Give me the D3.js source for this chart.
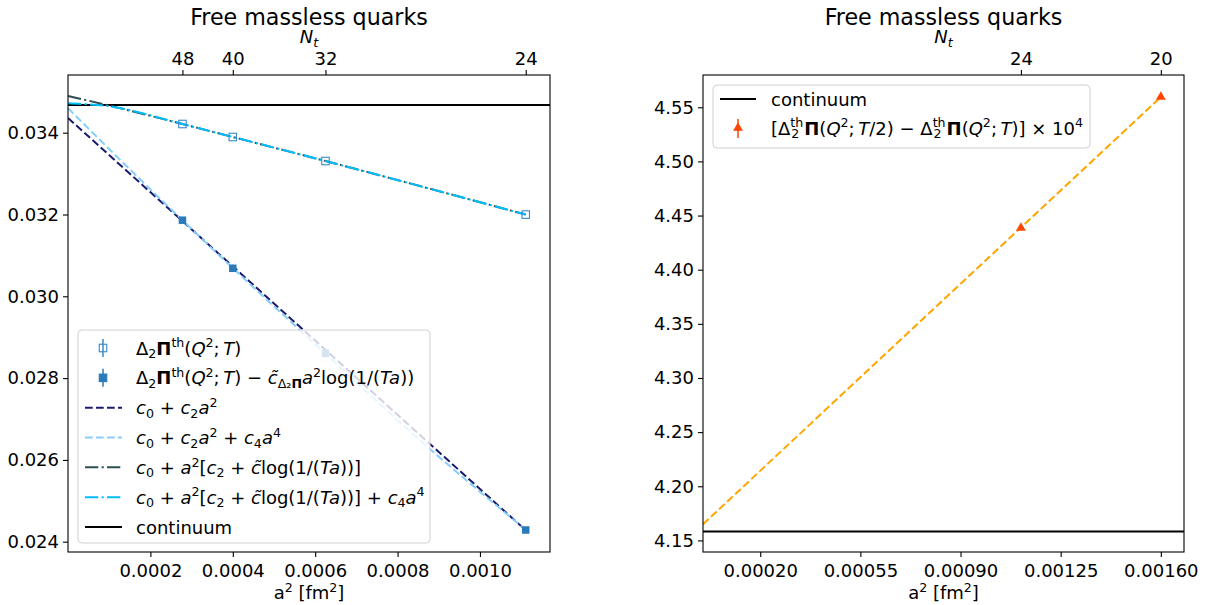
<!DOCTYPE html>
<html>
<head>
<meta charset="utf-8">
<script src="https://cdn.jsdelivr.net/npm/d3@7"></script>
<style>
  body { margin: 0; background: #fff; }
  svg text { font-family: "DejaVu Sans", sans-serif; fill: #000; }
</style>
</head>
<body>
<div id="chart"></div>
<script>
// left panel data
var leftA2 = [0.0002778, 0.0004, 0.000625, 0.0011111];
var leftNt = [48, 40, 32, 24];
var rawVals = [0.034213, 0.033895, 0.033308, 0.031998];
var subVals = [0.031861, 0.030685, 0.028604, 0.024286];
var continuumLeft = 0.034677;
var leftXTicks = [0.0002, 0.0004, 0.0006, 0.0008, 0.0010];
var leftYTicks = [0.024, 0.026, 0.028, 0.030, 0.032, 0.034];

// fit curves, [a2, value]
var fitC2 = [[0, 0.03436], [0.0011111, 0.02428]];
var fitC4 = [[0, 0.0346], [0.0001, 0.03360], [0.0002778, 0.03186], [0.0004, 0.03069],
             [0.000625, 0.02860], [0.00085, 0.02652], [0.0011111, 0.02429]];
var fitLog = [[0, 0.0349], [0.0000942, 0.034677], [0.0002778, 0.034213], [0.0004, 0.033895],
              [0.000625, 0.033308], [0.0011111, 0.031998]];
var fitLogC4 = [[0, 0.03472], [0.00004, 0.03470], [0.0000942, 0.034653], [0.0002778, 0.034213],
                [0.0004, 0.033895], [0.000625, 0.033308], [0.0011111, 0.031998]];

// right panel data
var rightA2 = [0.0011111, 0.0016];
var rightNt = [24, 20];
var diffVals = [4.4386, 4.5595];
var continuumRight = 4.1583;
var fitRight = [[0, 4.165], [0.0016, 4.5595]];
var rightXTicks = [0.0002, 0.00055, 0.0009, 0.00125, 0.0016];
var rightYTicks = [4.15, 4.20, 4.25, 4.30, 4.35, 4.40, 4.45, 4.50, 4.55];

var W = 1207, H = 605, FS = 18;

var svg = d3.select('#chart').append('svg')
    .attr('width', W).attr('height', H)
    .attr('xmlns', 'http://www.w3.org/2000/svg');

// rich text: parts = [text, flags, dx]; flags: i italic, b bold, ^ sup, _ sub
function rich(sel, parts, fs) {
    var cur = 0;
    parts.forEach(function(p) {
        var f = p[1] || '';
        var target = f.indexOf('^') >= 0 ? -0.4 * fs : (f.indexOf('_') >= 0 ? 0.2 * fs : 0);
        var ts = sel.append('tspan').text(p[0]).attr('dy', target - cur);
        cur = target;
        if (f.indexOf('^') >= 0 || f.indexOf('_') >= 0) ts.style('font-size', (0.7 * fs) + 'px');
        if (f.indexOf('i') >= 0) ts.style('font-style', 'italic');
        if (f.indexOf('b') >= 0) ts.style('font-weight', 'bold');
        if (p[2]) ts.attr('dx', p[2]);
    });
    return sel;
}

function panel(cfg) {
    var x = d3.scaleLinear().domain(cfg.xDomain).range([cfg.left, cfg.right]);
    var y = d3.scaleLinear().domain(cfg.yDomain).range([cfg.bottom, cfg.top]);
    var g = svg.append('g');

    var clipId = 'clip' + cfg.id;
    svg.append('clipPath').attr('id', clipId).append('rect')
        .attr('x', cfg.left).attr('y', cfg.top)
        .attr('width', cfg.right - cfg.left).attr('height', cfg.bottom - cfg.top);

    var plot = g.append('g').attr('clip-path', 'url(#' + clipId + ')');

    // axes
    var xAxis = g.append('g').attr('transform', 'translate(0,' + cfg.bottom + ')')
        .call(d3.axisBottom(x).tickValues(cfg.xTicks).tickFormat(d3.format(cfg.xFmt))
            .tickSize(5).tickPadding(5));
    var yAxis = g.append('g').attr('transform', 'translate(' + cfg.left + ',0)')
        .call(d3.axisLeft(y).tickValues(cfg.yTicks).tickFormat(d3.format(cfg.yFmt))
            .tickSize(5).tickPadding(4));
    var topAxis = g.append('g').attr('transform', 'translate(0,' + cfg.top + ')')
        .call(d3.axisTop(x).tickValues(cfg.topA2).tickFormat(function(d, i) { return cfg.topNt[i]; })
            .tickSize(5).tickPadding(5));
    [xAxis, yAxis, topAxis].forEach(function(a) {
        a.select('.domain').remove();
        a.selectAll('text').style('font-size', FS + 'px').style('font-family', '"DejaVu Sans", sans-serif');
        a.selectAll('line').attr('stroke', '#000').attr('stroke-width', 1.1);
    });
    xAxis.selectAll('text').attr('dy', '0.85em');

    // frame
    g.append('rect').attr('x', cfg.left).attr('y', cfg.top)
        .attr('width', cfg.right - cfg.left).attr('height', cfg.bottom - cfg.top)
        .attr('fill', 'none').attr('stroke', '#000').attr('stroke-width', 1.1);

    var cx = (cfg.left + cfg.right) / 2;
    g.append('text').attr('x', cx).attr('y', 25).attr('text-anchor', 'middle')
        .style('font-size', '22.2px').text('Free massless quarks');
    rich(g.append('text').attr('x', cx).attr('y', 43).attr('text-anchor', 'middle')
        .style('font-size', FS + 'px'), [['N', 'i'], ['t', 'i_']], FS);
    rich(g.append('text').attr('x', cx).attr('y', 599).attr('text-anchor', 'middle')
        .style('font-size', FS + 'px'), [['a'], ['2', '^'], [' [fm'], ['2', '^'], [']']], FS);

    return { x: x, y: y, g: g, plot: plot };
}

var line = function(p) {
    return d3.line().x(function(d) { return p.x(d[0]); }).y(function(d) { return p.y(d[1]); });
};

var LW = 2, DASH = '7.7,3.3', DASHDOT = '13.3,3.3,2.1,3.3';
var BLUE = '#2b7bba', BLUE_OPEN = '#3a89c9';

// ---------------- LEFT ----------------
var L = panel({
    id: 'L', left: 68, right: 550, top: 75, bottom: 552,
    xDomain: [0, 0.00117], yDomain: [0.023748, 0.035411],
    xTicks: leftXTicks, yTicks: leftYTicks, xFmt: '.4f', yFmt: '.3f',
    topA2: leftA2, topNt: leftNt
});

L.plot.append('line')
    .attr('x1', L.x(0)).attr('x2', L.x(0.00117))
    .attr('y1', L.y(continuumLeft)).attr('y2', L.y(continuumLeft))
    .attr('stroke', '#000').attr('stroke-width', LW);

var fits = [
    { data: fitC2, color: 'midnightblue', dash: DASH },
    { data: fitC4, color: 'lightskyblue', dash: DASH },
    { data: fitLog, color: 'darkslategray', dash: DASHDOT },
    { data: fitLogC4, color: 'deepskyblue', dash: DASHDOT }
];
fits.forEach(function(f) {
    L.plot.append('path').datum(f.data)
        .attr('d', d3.line().curve(d3.curveMonotoneX)
            .x(function(d) { return L.x(d[0]); }).y(function(d) { return L.y(d[1]); }))
        .attr('fill', 'none').attr('stroke', f.color)
        .attr('stroke-width', LW).attr('stroke-dasharray', f.dash);
});

var SQ = 7.5;
L.plot.append('g').selectAll('rect').data(leftA2).enter()
    .append('rect')
    .attr('x', function(d) { return L.x(d) - SQ / 2; })
    .attr('y', function(d, i) { return L.y(rawVals[i]) - SQ / 2; })
    .attr('width', SQ).attr('height', SQ)
    .attr('fill', 'none').attr('stroke', BLUE_OPEN).attr('stroke-width', 1.1);

L.plot.append('g').selectAll('rect').data(leftA2).enter()
    .append('rect')
    .attr('x', function(d) { return L.x(d) - SQ / 2; })
    .attr('y', function(d, i) { return L.y(subVals[i]) - SQ / 2; })
    .attr('width', SQ).attr('height', SQ)
    .attr('fill', BLUE);

// left legend
var legL = L.g.append('g');
legL.append('rect').attr('x', 78).attr('y', 330).attr('width', 352).attr('height', 213)
    .attr('rx', 4).attr('fill', '#fff').attr('fill-opacity', 0.8)
    .attr('stroke', '#d0d0d0').attr('stroke-width', 1);

var legendItems = [
    { kind: 'open', parts: [['Δ'], ['2', '_'], ['Π', 'b'], ['th', '^'], ['('], ['Q', 'i'], ['2', '^'], [';\u2009'], ['T', 'i'], [')']] },
    { kind: 'fill', parts: [['Δ'], ['2', '_'], ['Π', 'b'], ['th', '^'], ['('], ['Q', 'i'], ['2', '^'], [';\u2009'], ['T', 'i'], [') − '],
        ['c\u0303', 'i'], ['Δ₂', '_'], ['Π', '_b'], ['a', 'i'], ['2', '^'], ['log(1/('], ['Ta', 'i'], ['))']] },
    { kind: 'line', color: 'midnightblue', dash: DASH,
      parts: [['c', 'i'], ['0', '_'], [' + '], ['c', 'i'], ['2', '_'], ['a', 'i'], ['2', '^']] },
    { kind: 'line', color: 'lightskyblue', dash: DASH,
      parts: [['c', 'i'], ['0', '_'], [' + '], ['c', 'i'], ['2', '_'], ['a', 'i'], ['2', '^'], [' + '], ['c', 'i'], ['4', '_'], ['a', 'i'], ['4', '^']] },
    { kind: 'line', color: 'darkslategray', dash: DASHDOT,
      parts: [['c', 'i'], ['0', '_'], [' + '], ['a', 'i'], ['2', '^'], ['['], ['c', 'i'], ['2', '_'], [' + '], ['c\u0303', 'i'], ['log(1/('], ['Ta', 'i'], ['))]']] },
    { kind: 'line', color: 'deepskyblue', dash: DASHDOT,
      parts: [['c', 'i'], ['0', '_'], [' + '], ['a', 'i'], ['2', '^'], ['['], ['c', 'i'], ['2', '_'], [' + '], ['c\u0303', 'i'], ['log(1/('], ['Ta', 'i'], ['))] + '], ['c', 'i'], ['4', '_'], ['a', 'i'], ['4', '^']] },
    { kind: 'line', color: '#000', dash: null, parts: [['continuum']] }
];
var legY = d3.scaleLinear().domain([0, 6]).range([348, 527]);
legendItems.forEach(function(it, i) {
    var yy = legY(i);
    if (it.kind === 'line') {
        legL.append('line').attr('x1', 85).attr('x2', 122).attr('y1', yy).attr('y2', yy)
            .attr('stroke', it.color).attr('stroke-width', LW)
            .attr('stroke-dasharray', it.dash);
    } else {
        var c = it.kind === 'open' ? BLUE_OPEN : BLUE;
        legL.append('line').attr('x1', 103).attr('x2', 103).attr('y1', yy - 9).attr('y2', yy + 9)
            .attr('stroke', c).attr('stroke-width', 1.5);
        legL.append('rect').attr('x', 103 - SQ / 2).attr('y', yy - SQ / 2)
            .attr('width', SQ).attr('height', SQ)
            .attr('fill', it.kind === 'open' ? 'none' : c).attr('stroke', c).attr('stroke-width', 1.1);
    }
    rich(legL.append('text').attr('x', 136).attr('y', yy + 6.5).style('font-size', FS + 'px'), it.parts, FS);
});

// ---------------- RIGHT ----------------
var R = panel({
    id: 'R', left: 703, right: 1184, top: 75, bottom: 552,
    xDomain: [0, 0.001681], yDomain: [4.1393, 4.5798],
    xTicks: rightXTicks, yTicks: rightYTicks, xFmt: '.5f', yFmt: '.2f',
    topA2: rightA2, topNt: rightNt
});

R.plot.append('line')
    .attr('x1', R.x(0)).attr('x2', R.x(0.001681))
    .attr('y1', R.y(continuumRight)).attr('y2', R.y(continuumRight))
    .attr('stroke', '#000').attr('stroke-width', LW);

R.plot.append('path').datum(fitRight).attr('d', line(R))
    .attr('fill', 'none').attr('stroke', 'orange').attr('stroke-width', LW)
    .attr('stroke-dasharray', DASH);

var tri = d3.symbol().type(d3.symbolTriangle).size(42);
R.plot.append('g').selectAll('path').data(rightA2).enter()
    .append('path')
    .attr('d', tri)
    .attr('transform', function(d, i) { return 'translate(' + R.x(d) + ',' + R.y(diffVals[i]) + ')'; })
    .attr('fill', 'orangered');

// right legend
var legR = R.g.append('g');
legR.append('rect').attr('x', 713).attr('y', 85).attr('width', 377).attr('height', 63)
    .attr('rx', 4).attr('fill', '#fff').attr('fill-opacity', 0.8)
    .attr('stroke', '#d0d0d0').attr('stroke-width', 1);
legR.append('line').attr('x1', 720).attr('x2', 756).attr('y1', 99).attr('y2', 99)
    .attr('stroke', '#000').attr('stroke-width', LW);
rich(legR.append('text').attr('x', 771).attr('y', 105.5).style('font-size', FS + 'px'), [['continuum']], FS);
legR.append('line').attr('x1', 738).attr('x2', 738).attr('y1', 119).attr('y2', 138)
    .attr('stroke', 'orangered').attr('stroke-width', 1.5);
legR.append('path').attr('d', tri).attr('transform', 'translate(738,128)').attr('fill', 'orangered');
rich(legR.append('text').attr('x', 771).attr('y', 134.5).style('font-size', FS + 'px'),
    [['[Δ'], ['th', '^'], ['2', '_', -12], ['Π', 'b', 5], ['('], ['Q', 'i'], ['2', '^'], [';\u2009'], ['T', 'i'], ['/2) − Δ'],
     ['th', '^'], ['2', '_', -12], ['Π', 'b', 5], ['('], ['Q', 'i'], ['2', '^'], [';\u2009'], ['T', 'i'], [')] × 10'], ['4', '^']], FS);
</script>
</body>
</html>
